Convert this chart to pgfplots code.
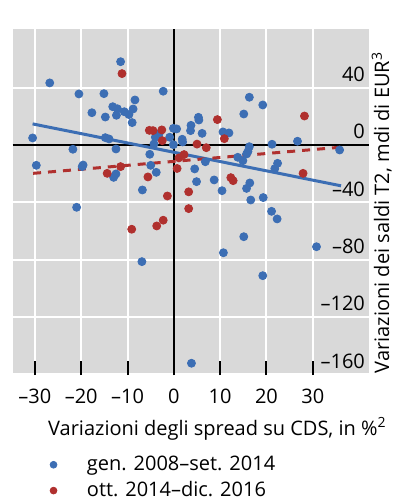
\documentclass[border=0pt]{standalone}
\usepackage{fontspec}
\setmainfont{Open Sans}
\usepackage{pgfplots}
\pgfplotsset{compat=1.18}
\definecolor{cblue}{HTML}{3C6EB4}
\definecolor{cred}{HTML}{B0302E}
\definecolor{bg}{HTML}{D9D9D9}
\newcommand{\fs}{\fontsize{10pt}{12pt}\selectfont}
\begin{document}
\begin{tikzpicture}
\useasboundingbox (0,0) rectangle (197.5pt,250pt);
\begin{axis}[
  at={(6.35pt,62.5pt)}, anchor=south west,
  scale only axis, width=178.3pt, height=172.85pt,
  xmin=-34.8, xmax=42.2, ymin=-160.5, ymax=80.7,
  axis line style={draw=none},
  axis background/.style={fill=bg},
  grid=major, major grid style={white, line width=1pt},
  xtick={-30,-20,...,30},
  xticklabels={–30,–20,–10,0,10,20,30},
  ytick={-160,-120,-80,-40,0,40},
  yticklabels={–160,–120,–80,–40,0,40},
  xtick pos=left, tick align=inside,
  xtick style={black, line width=1pt},
  major tick length=7pt,
  ytick style={draw=none},
  yticklabel pos=right,
  ticklabel style={font=\fs},
  yticklabel style={anchor=base east, yshift=3pt, inner sep=2pt},
  xticklabel style={yshift=-3.5pt},
  xlabel={Variazioni degli spread su CDS, in \%\textsuperscript{2}},
  xlabel style={at={(axis description cs:0.574,-0.1736)}, anchor=base, font=\fs},
  ylabel={Variazioni dei saldi T2, mdi di EUR\textsuperscript{3}},
  ylabel style={at={(axis description cs:1,0.47)}, anchor=north, inner sep=1pt, font=\fs},
  legend style={at={(axis description cs:0.087,-0.21)}, anchor=north west, draw=none, fill=none, font=\fs, row sep=0pt,
    /tikz/every odd column/.append style={column sep=13pt}},
  legend cell align=left,
  legend image post style={mark size=1.7pt},
]
\addplot[black, line width=1pt, forget plot] coordinates {(0,-160.5) (0,80.7)};
\addplot[black, line width=1pt, forget plot] coordinates {(-34.8,0) (42.2,0)};
\addplot[cblue, line width=1.5pt, forget plot] coordinates {(-30.5,14.7) (36.1,-28.5)};
\addplot[cred, line width=1.5pt, dash pattern=on 4pt off 3.5pt, forget plot] coordinates {(-30.4,-19.8) (35.9,-1.6)};
\addplot[only marks, mark=*, mark size=2pt, cblue, mark options={draw=cblue, fill=cblue}] coordinates {
(-11.5,58.1) (-26.8,43.3) (-20.5,35.6) (-15.1,35.8) (-8.4,31.4) (-17.7,22.5)
(-14.8,19.5) (-13.2,26.7) (-12.2,25.3) (-12.4,20.7) (-10.7,23.2) (-9.7,21.2)
(-8.8,25.1) (-9.0,15.6) (-30.5,4.9) (-14.8,5.1) (-14.0,4.2) (-21.8,-3.0)
(-12.5,-2.8) (-29.7,-14.2) (-19.6,-14.0) (-19.8,-15.1) (-12.5,-20.2) (-13.0,-22.6)
(-6.8,-31.4) (4.9,-25.6) (-5.2,-6.5) (-5.0,-14.2) (-3.8,-19.1) (4.5,-16.7)
(-2.3,37.5) (5.3,19.3) (5.4,17.4) (3.7,13.7) (3.6,10.0) (6.1,8.1)
(-0.1,11.6) (0.6,11.2) (-3.2,7.7) (-4.0,5.4) (-0.9,5.4) (1.8,4.0)
(1.9,2.1) (-4.3,0.7) (-0.1,0.2) (10.6,9.1) (11.9,8.4) (15.1,21.6)
(16.3,33.3) (19.2,27.9) (13.8,-8.6) (16.3,-1.2) (16.0,-4.6) (15.7,-6.3)
(21.2,0.5) (26.7,2.6) (35.8,-3.5) (14.9,-11.0) (6.8,-11.7) (8.7,-24.4)
(10.4,-31.9) (15.7,-30.3) (16.4,-26.5) (22.4,-12.8) (21.8,-16.5) (19.3,-36.7)
(16.6,-38.4) (21.1,-46.3) (22.3,-51.6) (15.1,-64.0) (30.8,-71.0) (19.2,-91.2)
(10.7,-75.2) (3.8,-152.3) (-6.9,-81.4) (-21.0,-43.5)
};
\addlegendentry{gen. 2008–set. 2014}
\addplot[only marks, mark=*, mark size=2pt, cred, mark options={draw=cred, fill=cred}] coordinates {
(-11.2,49.8) (-11.5,-15.1) (-14.4,-19.8) (-5.6,-22.3) (-1.4,-35.6) (3.2,-32.7)
(0.7,-16.4) (1.1,-9.0) (2.2,-6.7) (5.0,0.6) (9.4,17.7) (-5.3,10.2)
(-4.5,10.0) (-2.6,10.5) (-2.5,3.0) (7.0,-1.9) (10.9,4.4) (28.2,20.2)
(12.3,-22.8) (12.8,-24.9) (27.9,-19.8) (3.2,-44.4) (-2.3,-52.5) (-3.7,-56.5)
(-9.1,-58.8)
};
\addlegendentry{ott. 2014–dic. 2016}
\end{axis}
\end{tikzpicture}
\end{document}
